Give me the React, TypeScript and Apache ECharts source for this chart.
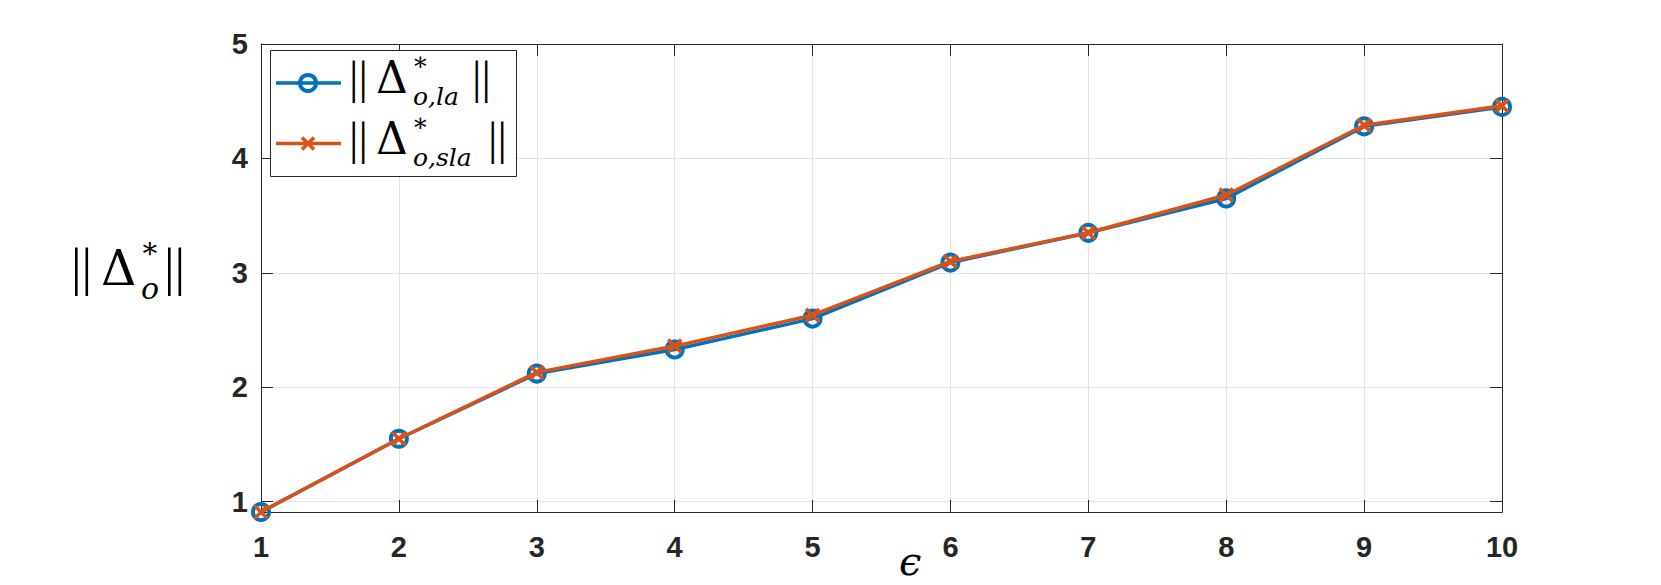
import React, { useEffect, useRef } from "react";
import * as echarts from "echarts";

const epsValues = [1, 2, 3, 4, 5, 6, 7, 8, 9, 10];
const laValues = [0.91, 1.55, 2.12, 2.33, 2.6, 3.09, 3.35, 3.65, 4.28, 4.45];
const slaValues = [0.91, 1.55, 2.13, 2.36, 2.63, 3.1, 3.35, 3.68, 4.29, 4.46];
const yTicks = [1, 2, 3, 4, 5];

const BLUE = "#0072BD";
const ORANGE = "#D95319";
const AXIS = "#262626";
const SERIF = "'Liberation Serif', 'DejaVu Serif', serif";
const DSERIF = "'DejaVu Serif', 'Liberation Serif', serif";

function mid(baseline: number, f: number) {
  return baseline - 0.35 * f;
}

function txt(
  text: string,
  x: number,
  y: number,
  f: number,
  italic = false,
  family = SERIF,
  lh?: number
) {
  return {
    type: "text",
    x,
    y,
    silent: true,
    style: {
      text,
      fontSize: f,
      fontFamily: family,
      fontStyle: italic ? "italic" : "normal",
      fill: "#000",
      align: "left",
      verticalAlign: "middle",
      lineHeight: lh ?? f,
    },
  };
}

function legendLabel(sub: string, baseline: number, barsX: number) {
  const F = 47;
  const D = 44;
  const f = 25;
  return [
    txt("||", 349, mid(baseline, F), F),
    txt("Δ", 376, mid(baseline, D), D, false, DSERIF, 28),
    txt("∗", 412, baseline - 32, f, false, DSERIF, 20),
    txt(sub, 413, mid(baseline + 12, f), f, true, DSERIF, 18),
    txt("||", barsX, mid(baseline, F), F),
  ];
}

export default function App() {
  const ref = useRef<HTMLDivElement>(null);
  useEffect(() => {
    if (!ref.current) return;
    const chart = echarts.init(ref.current, undefined, { renderer: "svg" });
    const xData = epsValues.map((e, i) => [e, laValues[i]]);
    const xData2 = epsValues.map((e, i) => [e, slaValues[i]]);
    const tickLabel = {
      color: AXIS,
      fontSize: 29,
      fontWeight: "bold" as const,
      fontFamily: "'Liberation Sans', Arial, sans-serif",
    };
    const YF = 53;
    const YD = 49;
    const yBase = 286;
    chart.setOption({
      animation: false,
      backgroundColor: "#fff",
      grid: { left: 261, right: 159, top: 44, bottom: 73, containLabel: false },
      xAxis: [
        {
          type: "value",
          min: 1,
          max: 10,
          interval: 1,
          position: "bottom",
          axisLine: { show: true, lineStyle: { color: AXIS, width: 1 } },
          axisTick: { show: true, inside: true, length: 12, lineStyle: { color: AXIS } },
          axisLabel: { ...tickLabel, margin: 20 },
          splitLine: { show: true, lineStyle: { color: "#e3e3e3", width: 1 } },
        },
        {
          type: "value",
          min: 1,
          max: 10,
          interval: 1,
          position: "top",
          axisLine: { show: true, lineStyle: { color: AXIS, width: 1 } },
          axisTick: { show: true, inside: true, length: 12, lineStyle: { color: AXIS } },
          axisLabel: { show: false },
          splitLine: { show: false },
        },
      ],
      yAxis: [
        {
          type: "value",
          min: 0.91,
          max: 5,
          position: "left",
          axisLine: { show: true, lineStyle: { color: AXIS, width: 1 } },
          axisTick: { show: true, inside: true, length: 12, customValues: yTicks, lineStyle: { color: AXIS } },
          axisLabel: { ...tickLabel, margin: 13, customValues: yTicks },
          splitLine: { show: true, lineStyle: { color: "#e3e3e3", width: 1 } },
        },
        {
          type: "value",
          min: 0.91,
          max: 5,
          position: "right",
          axisLine: { show: true, lineStyle: { color: AXIS, width: 1 } },
          axisTick: { show: true, inside: true, length: 12, customValues: yTicks, lineStyle: { color: AXIS } },
          axisLabel: { show: false, customValues: yTicks },
          splitLine: { show: false },
        },
      ],
      series: [
        {
          name: "la",
          type: "line",
          data: xData,
          clip: false,
          symbol: "circle",
          symbolSize: 16,
          lineStyle: { color: BLUE, width: 3.5 },
          itemStyle: { color: "rgba(0,0,0,0)", borderColor: BLUE, borderWidth: 4 },
          z: 3,
        },
        {
          name: "sla",
          type: "line",
          data: xData2,
          clip: false,
          symbol: "path://M0,0L10,10M10,0L0,10",
          symbolSize: 13,
          lineStyle: { color: ORANGE, width: 3.5 },
          itemStyle: { color: "rgba(0,0,0,0)", borderColor: ORANGE, borderWidth: 3.5 },
          z: 4,
        },
      ],
      graphic: [
        // legend
        {
          type: "rect",
          shape: { x: 270.5, y: 50.5, width: 246, height: 126 },
          style: { fill: "#fff", stroke: AXIS, lineWidth: 1 },
          z: 10,
        },
        {
          type: "line",
          shape: { x1: 276, y1: 83, x2: 341, y2: 83 },
          style: { stroke: BLUE, lineWidth: 3.5 },
          z: 11,
        },
        {
          type: "circle",
          shape: { cx: 308, cy: 83, r: 8 },
          style: { fill: "none", stroke: BLUE, lineWidth: 4 },
          z: 11,
        },
        {
          type: "line",
          shape: { x1: 276, y1: 143.5, x2: 341, y2: 143.5 },
          style: { stroke: ORANGE, lineWidth: 3.5 },
          z: 11,
        },
        {
          type: "polyline",
          shape: { points: [[302, 137.5], [314, 149.5]] },
          style: { stroke: ORANGE, lineWidth: 3.5, fill: "none" },
          z: 11,
        },
        {
          type: "polyline",
          shape: { points: [[314, 137.5], [302, 149.5]] },
          style: { stroke: ORANGE, lineWidth: 3.5, fill: "none" },
          z: 11,
        },
        ...legendLabel("o,la", 93, 472).map((g) => ({ ...g, z: 12 })),
        ...legendLabel("o,sla", 154, 488).map((g) => ({ ...g, z: 12 })),
        // y axis name
        txt("||", 71, mid(yBase, YF), YF),
        txt("Δ", 101, mid(yBase, YD), YD, false, DSERIF, 30),
        txt("∗", 140, 248, 29, false, DSERIF, 20),
        txt("o", 141, mid(299, 30), 30, true, DSERIF, 16),
        txt("||", 164, mid(yBase, YF), YF),
        // x axis name
        txt("ϵ", 899, mid(575, 40), 40, true, DSERIF),
      ],
    });
    return () => chart.dispose();
  }, []);
  return (
    <div
      ref={ref}
      style={{ position: "absolute", left: 0, top: 0, width: 1661, height: 585 }}
    />
  );
}
